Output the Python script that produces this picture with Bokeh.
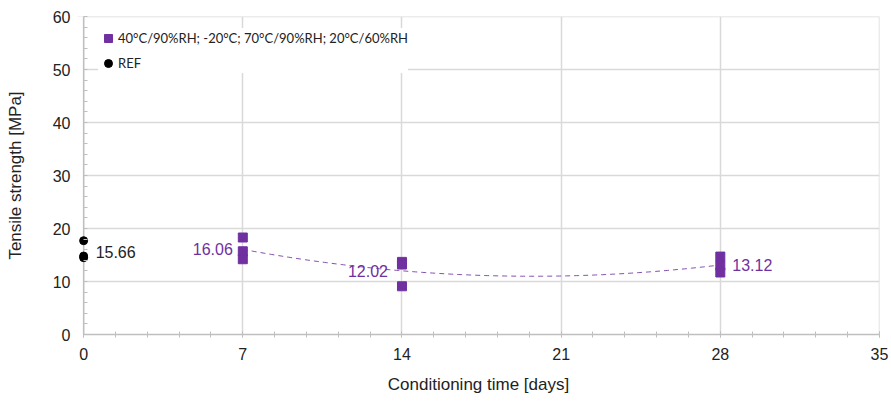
import numpy as np
from bokeh.plotting import figure
from bokeh.models import (ColumnDataSource, SingleIntervalTicker, Range1d, Legend,
                          LegendItem, LabelSet, BoxAnnotation, Span)
from bokeh.core.properties import value
from bokeh.embed import file_html
from bokeh.resources import INLINE

# ---- data ----
ref_days = [0, 0, 0]
ref_strength = [17.7, 14.8, 14.5]
ref_mean_label = ["15.66"]
ref_mean = [15.66]

cond_days = [7, 7, 7, 14, 14, 14, 28, 28, 28]
cond_strength = [18.3, 15.7, 14.2, 13.7, 13.2, 9.1, 14.7, 13.0, 11.7]
mean_days = [7, 14, 28]
mean_strength = [16.06, 12.02, 13.12]
mean_labels = ["16.06", "12.02", "13.12"]

legend_cond = "40°C/90%RH; -20°C; 70°C/90%RH; 20°C/60%RH"
legend_ref = "REF"
x_title = "Conditioning time [days]"
y_title = "Tensile strength [MPa]"

PURPLE = "#7030A0"
GRID = "#d9d9d9"
AXIS = "#bfbfbf"
FONT = "Liberation Sans"

X0 = -0.27   # small pad left of day 0 so the REF markers are not cut
X1 = 35
Y0, Y1 = 0, 60

p = figure(width=891, height=402, output_backend="svg", toolbar_location=None,
           x_range=Range1d(X0, X1), y_range=Range1d(Y0, Y1),
           min_border_left=77, min_border_right=12, min_border_top=16,
           min_border_bottom=68)
p.outline_line_color = None
p.background_fill_color = "white"

p.xaxis.ticker = SingleIntervalTicker(interval=7, num_minor_ticks=5)
p.yaxis.ticker = SingleIntervalTicker(interval=10, num_minor_ticks=5)
p.xgrid.ticker = p.xaxis.ticker
p.ygrid.ticker = p.yaxis.ticker
for g in (p.xgrid, p.ygrid):
    g.grid_line_color = GRID
    g.grid_line_width = 1.5

# plot border (top / right) as light lines
p.add_layout(Span(location=Y1, dimension="width", line_color=GRID,
                  line_width=1.5, level="underlay"))
p.add_layout(Span(location=X1, dimension="height", line_color=GRID,
                  line_width=1.5, level="underlay"))
# white strip left of day 0 hides grid stubs
p.add_layout(BoxAnnotation(right=0, fill_color="white", fill_alpha=1.0,
                           line_color=None, level="underlay"))
# y axis line at day 0
p.add_layout(Span(location=0, dimension="height", line_color=AXIS,
                  line_width=1.5, level="underlay"))

for ax in (p.xaxis, p.yaxis):
    ax.major_tick_line_color = AXIS
    ax.minor_tick_line_color = AXIS
    ax.major_label_text_font = FONT
    ax.major_label_text_font_size = "16px"
    ax.major_label_text_color = "#222222"
    ax.axis_label_text_font = FONT
    ax.axis_label_text_font_size = "17px"
    ax.axis_label_text_font_style = "normal"
    ax.axis_label_text_color = "#222222"

p.xaxis.bounds = (0, X1)
p.xaxis.axis_line_color = AXIS
p.xaxis.axis_line_width = 1.5
p.xaxis.major_tick_in = 3
p.xaxis.major_tick_out = 3
p.xaxis.minor_tick_in = 3
p.xaxis.minor_tick_out = 3
p.xaxis.major_label_standoff = 10
p.xaxis.axis_label = x_title
p.xaxis.axis_label_standoff = 12

p.yaxis.axis_line_color = None
p.yaxis.major_tick_in = 0
p.yaxis.major_tick_out = 0
p.yaxis.minor_tick_in = 10
p.yaxis.minor_tick_out = -6
p.yaxis.major_label_standoff = 7
p.yaxis.axis_label = y_title
p.yaxis.axis_label_standoff = 25

# trend line (quadratic through the means)
coef = np.polyfit(mean_days, mean_strength, 2)
xs = np.linspace(min(mean_days), max(mean_days), 200)
p.line(xs, np.polyval(coef, xs), line_color=PURPLE, line_width=1,
       line_dash="5 4", line_alpha=0.85)

r_cond = p.scatter(cond_days, cond_strength, marker="square", size=9,
                   fill_color=PURPLE, line_color=PURPLE)
r_ref = p.scatter(ref_days, ref_strength, marker="circle", size=8,
                  fill_color="black", line_color="black")

# data labels
src_ref = ColumnDataSource(dict(x=[0], y=ref_mean, t=ref_mean_label))
p.add_layout(LabelSet(x="x", y="y", text="t", source=src_ref, x_offset=12,
                      text_align="left", text_baseline="middle",
                      text_font=value(FONT), text_font_size="16px",
                      text_color="#222222"))
src_m = ColumnDataSource(dict(x=mean_days, y=mean_strength, t=mean_labels,
                              xo=[-10, -14, 12],
                              al=["right", "right", "left"]))
p.add_layout(LabelSet(x="x", y="y", text="t", source=src_m, x_offset="xo",
                      text_align="al", text_baseline="middle",
                      text_font=value(FONT), text_font_size="16px",
                      text_color=PURPLE))

legend = Legend(items=[LegendItem(label=legend_cond, renderers=[r_cond]),
                       LegendItem(label=legend_ref, renderers=[r_ref])],
                location=(21, 261), margin=0, padding=0, spacing=5,
                glyph_width=20, glyph_height=20, label_standoff=-5,
                label_text_font="Lato", label_text_font_size="13px",
                label_text_color="#222222",
                border_line_color=None, background_fill_color="white",
                background_fill_alpha=1.0)
p.add_layout(legend)

open("out.html", "w").write(file_html(p, INLINE))
